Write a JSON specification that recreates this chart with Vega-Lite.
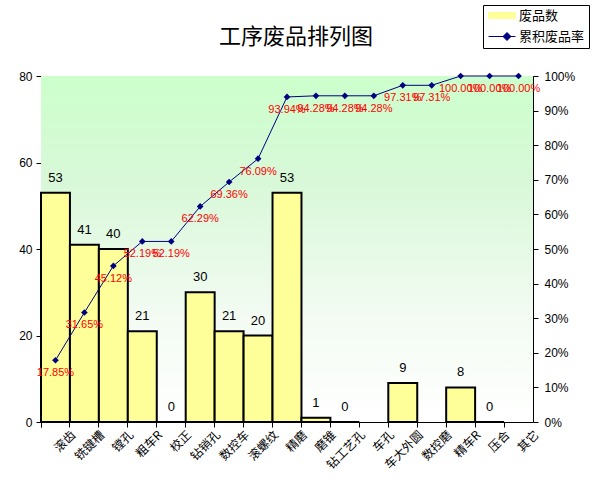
{
  "$schema": "https://vega.github.io/schema/vega-lite/v6.json",
  "autosize": {"type": "none"},
  "width": 492,
  "height": 346,
  "padding": {"left": 41, "top": 76, "right": 61, "bottom": 73},
  "background": "#ffffff",
  "title": {
    "text": "工序废品排列图",
    "font": "Noto Sans CJK SC",
    "fontSize": 22,
    "fontWeight": "normal",
    "color": "#000000",
    "anchor": "middle",
    "offset": 0,
    "dy": 44,
    "dx": 9
  },
  "config": {
    "view": {"stroke": "#808080", "strokeWidth": 1},
    "axis": {
      "domainColor": "#000000",
      "tickColor": "#000000",
      "labelColor": "#000000",
      "labelFont": "Liberation Sans",
      "labelFontSize": 12,
      "tickSize": 5,
      "grid": false,
      "title": null
    },
    "legend": {
      "orient": "none",
      "legendX": 442,
      "legendY": -71,
      "direction": "vertical",
      "strokeColor": "#000000",
      "fillColor": "#ffffff",
      "padding": 4,
      "labelFont": "Noto Sans CJK SC",
      "labelFontSize": 13,
      "labelColor": "#000000",
      "rowPadding": 7,
      "symbolSize": 100,
      "symbolStrokeWidth": 1,
      "labelOffset": 19
    }
  },
  "data": {
    "values": [
      {"proc": "滚齿", "count": 53, "cum": 0.1785, "pct": "17.85%"},
      {"proc": "铣键槽", "count": 41, "cum": 0.3165, "pct": "31.65%"},
      {"proc": "镗孔", "count": 40, "cum": 0.4512, "pct": "45.12%"},
      {"proc": "粗车R", "count": 21, "cum": 0.5219, "pct": "52.19%"},
      {"proc": "校正", "count": 0, "cum": 0.5219, "pct": "52.19%"},
      {"proc": "钻销孔", "count": 30, "cum": 0.6229, "pct": "62.29%"},
      {"proc": "数控车", "count": 21, "cum": 0.6936, "pct": "69.36%"},
      {"proc": "滚螺纹", "count": 20, "cum": 0.7609, "pct": "76.09%"},
      {"proc": "精磨", "count": 53, "cum": 0.9394, "pct": "93.94%"},
      {"proc": "磨锥", "count": 1, "cum": 0.9428, "pct": "94.28%"},
      {"proc": "钻工艺孔", "count": 0, "cum": 0.9428, "pct": "94.28%"},
      {"proc": "车孔", "count": null, "cum": 0.9428, "pct": "94.28%"},
      {"proc": "车大外圆", "count": 9, "cum": 0.9731, "pct": "97.31%"},
      {"proc": "数控磨", "count": null, "cum": 0.9731, "pct": "97.31%"},
      {"proc": "精车R", "count": 8, "cum": 1.0, "pct": "100.00%"},
      {"proc": "压合", "count": 0, "cum": 1.0, "pct": "100.00%"},
      {"proc": "其它", "count": null, "cum": 1.0, "pct": "100.00%"}
    ]
  },
  "encoding": {
    "x": {
      "field": "proc",
      "type": "nominal",
      "sort": null,
      "scale": {
        "domain": ["滚齿", "铣键槽", "镗孔", "粗车R", "校正", "钻销孔", "数控车", "滚螺纹", "精磨", "磨锥", "钻工艺孔", "车孔", "车大外圆", "数控磨", "精车R", "压合", "其它"],
        "paddingInner": 0,
        "paddingOuter": 0
      },
      "axis": {
        "labelAngle": -45,
        "labelFont": "Noto Sans CJK SC",
        "labelFontSize": 12,
        "bandPosition": 0,
        "tickExtra": true,
        "labelOffset": 14.5,
        "labelPadding": 2
      }
    }
  },
  "layer": [
    {
      "encoding": {
        "y": {
          "type": "quantitative",
          "scale": {"domain": [0, 80], "nice": false},
          "axis": {"values": [0, 20, 40, 60, 80], "labelPadding": 4, "labelOverlap": false, "labelFlush": false, "labelBound": false}
        }
      },
      "layer": [
        {
          "mark": {
            "type": "rect",
            "color": {
              "gradient": "linear",
              "x1": 0, "y1": 0, "x2": 0, "y2": 1,
              "stops": [
                {"offset": 0, "color": "#ccffcc"},
                {"offset": 0.3, "color": "#d8f8d8"},
                {"offset": 0.7, "color": "#f3fbf3"},
                {"offset": 1, "color": "#ffffff"}
              ]
            }
          },
          "encoding": {
            "x": null,
            "y": {"datum": 80, "type": "quantitative"},
            "y2": {"datum": 0}
          }
        },
        {
          "mark": {"type": "bar", "stroke": "#000000", "strokeWidth": 2},
          "encoding": {
            "y": {"field": "count", "type": "quantitative"},
            "color": {
              "datum": "废品数",
              "scale": {"domain": ["废品数", "累积废品率"], "range": ["#ffff99", "#000080"]},
              "legend": {
                "title": null,
                "encode": {
                  "symbols": {
                    "update": {
                      "shape": {"signal": "datum.value === '废品数' ? 'M-1,-0.6H4.4V0.6H-1Z' : 'M-1,0H4.4M1.9,0L2.7,-0.8L3.5,0L2.7,0.8Z'"},
                      "fill": {"signal": "datum.value === '废品数' ? '#ffff99' : '#000080'"},
                      "stroke": {"signal": "datum.value === '废品数' ? '#000000' : '#000080'"}
                    }
                  }
                }
              }
            }
          }
        },
        {
          "mark": {"type": "text", "font": "Liberation Sans", "fontSize": 13, "color": "#000000", "baseline": "bottom", "dy": -8},
          "encoding": {
            "y": {"field": "count", "type": "quantitative"},
            "text": {"field": "count", "type": "quantitative"}
          }
        }
      ]
    },
    {
      "encoding": {
        "y": {
          "field": "cum",
          "type": "quantitative",
          "scale": {"domain": [0, 1], "nice": false},
          "axis": {"orient": "right", "format": ".0%", "values": [0, 0.1, 0.2, 0.3, 0.4, 0.5, 0.6, 0.7, 0.8, 0.9, 1.0], "labelPadding": 6, "labelOverlap": false, "labelFlush": false, "labelBound": false}
        }
      },
      "layer": [
        {
          "mark": {"type": "line", "strokeWidth": 1},
          "encoding": {
            "color": {
              "datum": "累积废品率",
              "legend": {
                "title": null,
                "encode": {
                  "symbols": {
                    "update": {
                      "shape": {"signal": "datum.value === '废品数' ? 'M-1,-0.6H4.4V0.6H-1Z' : 'M-1,0H4.4M1.9,0L2.7,-0.8L3.5,0L2.7,0.8Z'"},
                      "fill": {"signal": "datum.value === '废品数' ? '#ffff99' : '#000080'"},
                      "stroke": {"signal": "datum.value === '废品数' ? '#000000' : '#000080'"}
                    }
                  }
                }
              }
            }
          }
        },
        {
          "mark": {"type": "point", "shape": "diamond", "filled": true, "size": 45, "color": "#000080", "opacity": 1}
        },
        {
          "mark": {"type": "text", "font": "Liberation Sans", "fontSize": 11, "color": "#ff0000", "baseline": "middle", "dy": 13},
          "encoding": {
            "text": {"field": "pct"}
          }
        }
      ]
    }
  ],
  "resolve": {"scale": {"y": "independent"}}
}
